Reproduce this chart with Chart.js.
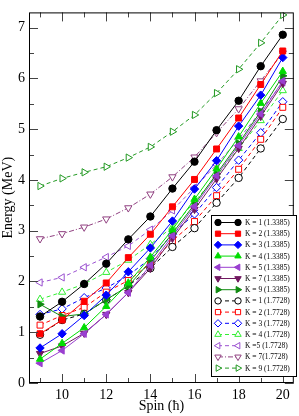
<!DOCTYPE html>
<html>
<head>
<meta charset="utf-8">
<script src="https://cdn.jsdelivr.net/npm/chart.js@4.4.1/dist/chart.umd.min.js"></script>
<style>
  html, body { margin: 0; padding: 0; background: #fff; }
  #wrap { width: 299px; height: 416px; }
</style>
</head>
<body>
<div id="wrap"><canvas id="chart" width="299" height="416"></canvas></div>
<script>
// data
const spins = [9, 10, 11, 12, 13, 14, 15, 16, 17, 18, 19, 20];
const xTicks = [10, 12, 14, 16, 18, 20];
const yTicks = [0, 1, 2, 3, 4, 5, 6, 7];

// a = 1.3385, b = 1.7728
const k1a = [1.31, 1.60, 1.95, 2.35, 2.83, 3.28, 3.83, 4.36, 4.98, 5.56, 6.24, 6.86];
const k2a = [0.97, 1.24, 1.61, 1.97, 2.47, 2.93, 3.47, 4.01, 4.61, 5.22, 5.88, 6.54];
const k3a = [0.69, 0.97, 1.33, 1.73, 2.19, 2.66, 3.19, 3.82, 4.38, 5.06, 5.67, 6.41];
const k4a = [0.47, 0.78, 1.09, 1.51, 1.97, 2.48, 3.02, 3.62, 4.22, 4.85, 5.51, 6.14];
const k5a = [0.39, 0.64, 0.97, 1.35, 1.78, 2.32, 2.90, 3.48, 4.08, 4.68, 5.30, 5.95];
const k7a = [0.58, 0.73, 0.98, 1.35, 1.78, 2.26, 2.85, 3.42, 4.02, 4.62, 5.25, 5.90];
const k9a = [1.55, 1.31, 1.36, 1.64, 1.91, 2.40, 2.95, 3.52, 4.12, 4.72, 5.35, 6.05];
const k1b = [0.95, 1.24, 1.36, 1.64, 1.91, 2.26, 2.68, 3.05, 3.55, 4.04, 4.62, 5.20];
const k2b = [1.14, 1.33, 1.49, 1.79, 2.02, 2.35, 2.80, 3.18, 3.69, 4.21, 4.80, 5.43];
const k3b = [1.35, 1.46, 1.68, 1.87, 2.12, 2.45, 2.93, 3.33, 3.85, 4.39, 4.93, 5.54];
const k4b = [1.65, 1.79, 1.95, 2.18, 2.42, 2.73, 3.07, 3.57, 4.08, 4.62, 5.17, 5.76];
const k5b = [1.98, 2.08, 2.28, 2.48, 2.70, 3.02, 3.40, 3.85, 4.30, 4.80, 5.35, 5.92];
const k7b = [2.84, 2.94, 3.07, 3.23, 3.45, 3.72, 4.06, 4.45, 4.93, 5.40, 5.95, 6.50];
const k9b = [3.88, 4.03, 4.15, 4.26, 4.44, 4.65, 4.95, 5.28, 5.71, 6.18, 6.70, 7.25];

const SERIF = "'Liberation Serif', 'DejaVu Serif', serif";

function series(label, vals, color, style, rot, open, dash) {
  return {
    label: label,
    data: spins.map((s, i) => ({ x: s, y: vals[i] })),
    borderColor: color,
    backgroundColor: open ? '#ffffff' : color,
    pointBackgroundColor: open ? '#ffffff' : color,
    pointBorderColor: color,
    pointStyle: style,
    pointRotation: rot,
    pointRadius: style === 'circle' ? 3.7 : 4.2,
    pointBorderWidth: 1,
    borderWidth: 1,
    borderDash: dash || [],
    tension: 0
  };
}

const datasets = [
  series('K = 1 (1.3385)', k1a, '#000000', 'circle', 0, false),
  series('K = 2 (1.3385)', k2a, '#ff0000', 'rect', 0, false),
  series('K = 3 (1.3385)', k3a, '#0000ff', 'rectRot', 0, false),
  series('K = 4 (1.3385)', k4a, '#00dd00', 'triangle', 0, false),
  series('K = 5 (1.3385)', k5a, '#9a3fd0', 'triangle', -90, false),
  series('K = 7 (1.3385)', k7a, '#701860', 'triangle', 180, false),
  series('K = 9 (1.3385)', k9a, '#108a10', 'triangle', 90, false),
  series('K = 1 (1.7728)', k1b, '#000000', 'circle', 0, true, [4, 3]),
  series('K = 2 (1.7728)', k2b, '#ff0000', 'rect', 0, true, [4, 3]),
  series('K = 3 (1.7728)', k3b, '#0000ff', 'rectRot', 0, true, [4, 3]),
  series('K = 4 (1.7728)', k4b, '#33ee33', 'triangle', 0, true, [4, 3]),
  series('K =5 (1.7728)', k5b, '#9a50d0', 'triangle', -90, true, [4, 3]),
  series('K = 7(1.7728)', k7b, '#904080', 'triangle', 180, true, [5, 2, 1, 2]),
  series('K = 9 (1.7728)', k9b, '#229922', 'triangle', 90, true, [4, 3])
];

// inward ticks on all four sides + frame
const framePlugin = {
  id: 'frame',
  afterDatasetsDraw(chart) {
    const { ctx, chartArea: a, scales } = chart;
    ctx.save();
    ctx.strokeStyle = '#444';
    ctx.lineWidth = 1;
    ctx.beginPath();
    for (let v = 9; v <= 20; v++) {
      const px = Math.round(scales.x.getPixelForValue(v)) + 0.5;
      const len = v % 2 === 0 ? 9 : 5;
      ctx.moveTo(px, a.bottom); ctx.lineTo(px, a.bottom - len);
      ctx.moveTo(px, a.top); ctx.lineTo(px, a.top + len);
    }
    for (let v = 0; v <= 7; v += 0.5) {
      const py = Math.round(scales.y.getPixelForValue(v)) + 0.5;
      const len = v % 1 === 0 ? 9 : 5;
      ctx.moveTo(a.left, py); ctx.lineTo(a.left + len, py);
      ctx.moveTo(a.right, py); ctx.lineTo(a.right - len, py);
    }
    ctx.stroke();
    ctx.strokeStyle = '#000';
    ctx.strokeRect(a.left + 0.5, a.top + 0.5, a.right - a.left - 1, a.bottom - a.top - 1);
    ctx.restore();
  },
  afterDraw(chart) {
    // legend box in lower right, line sample with marker at both ends
    const ctx = chart.ctx;
    const bx = 211, by = 215, bw = 85, bh = 161;
    ctx.save();
    ctx.fillStyle = '#fff';
    ctx.fillRect(bx, by, bw, bh);
    ctx.strokeStyle = '#000';
    ctx.lineWidth = 1;
    ctx.strokeRect(bx + 0.5, by + 0.5, bw, bh);
    chart.data.datasets.forEach((ds, i) => {
      const y = 222.5 + i * 11.2;
      ctx.strokeStyle = ds.borderColor;
      ctx.lineWidth = 1;
      ctx.setLineDash(ds.borderDash);
      ctx.beginPath();
      ctx.moveTo(218, y); ctx.lineTo(238, y);
      ctx.stroke();
      ctx.setLineDash([]);
      ctx.fillStyle = ds.pointBackgroundColor;
      ctx.strokeStyle = ds.pointBorderColor;
      [218, 238].forEach(x => {
        Chart.helpers.drawPoint(ctx, {
          pointStyle: ds.pointStyle, rotation: ds.pointRotation,
          radius: ds.pointRadius - 0.5, borderWidth: 1
        }, x, y);
      });
      ctx.fillStyle = '#000';
      ctx.font = '7.5px ' + SERIF;
      ctx.textBaseline = 'middle';
      ctx.fillText(ds.label, 245, y + 0.5);
    });
    ctx.restore();
  }
};

new Chart(document.getElementById('chart'), {
  type: 'line',
  data: { datasets: datasets },
  options: {
    responsive: false,
    animation: false,
    layout: { padding: { top: 1, right: 2, left: 0, bottom: 0 } },
    plugins: { legend: { display: false }, tooltip: { enabled: false } },
    scales: {
      x: {
        type: 'linear', min: 8.5, max: 20.5,
        afterBuildTicks: s => { s.ticks = xTicks.map(v => ({ value: v })); },
        afterFit: s => { s.height = 33; },
        grid: { display: false, drawTicks: false },
        border: { display: false },
        ticks: { color: '#000', padding: 4, maxRotation: 0, font: { family: SERIF, size: 14 } },
        title: { display: true, text: 'Spin (ħ)', color: '#000', padding: { top: 0, bottom: 1 }, font: { family: SERIF, size: 14 } }
      },
      y: {
        type: 'linear', min: 0, max: 7.3,
        afterBuildTicks: s => { s.ticks = yTicks.map(v => ({ value: v })); },
        afterFit: s => { s.width = 29; },
        grid: { display: false, drawTicks: false },
        border: { display: false },
        ticks: { color: '#000', padding: 4, font: { family: SERIF, size: 14 } },
        title: { display: true, text: 'Energy (MeV)', color: '#000', padding: { top: 0, bottom: 0 }, font: { family: SERIF, size: 14 } }
      }
    }
  },
  plugins: [framePlugin]
});
</script>
</body>
</html>
